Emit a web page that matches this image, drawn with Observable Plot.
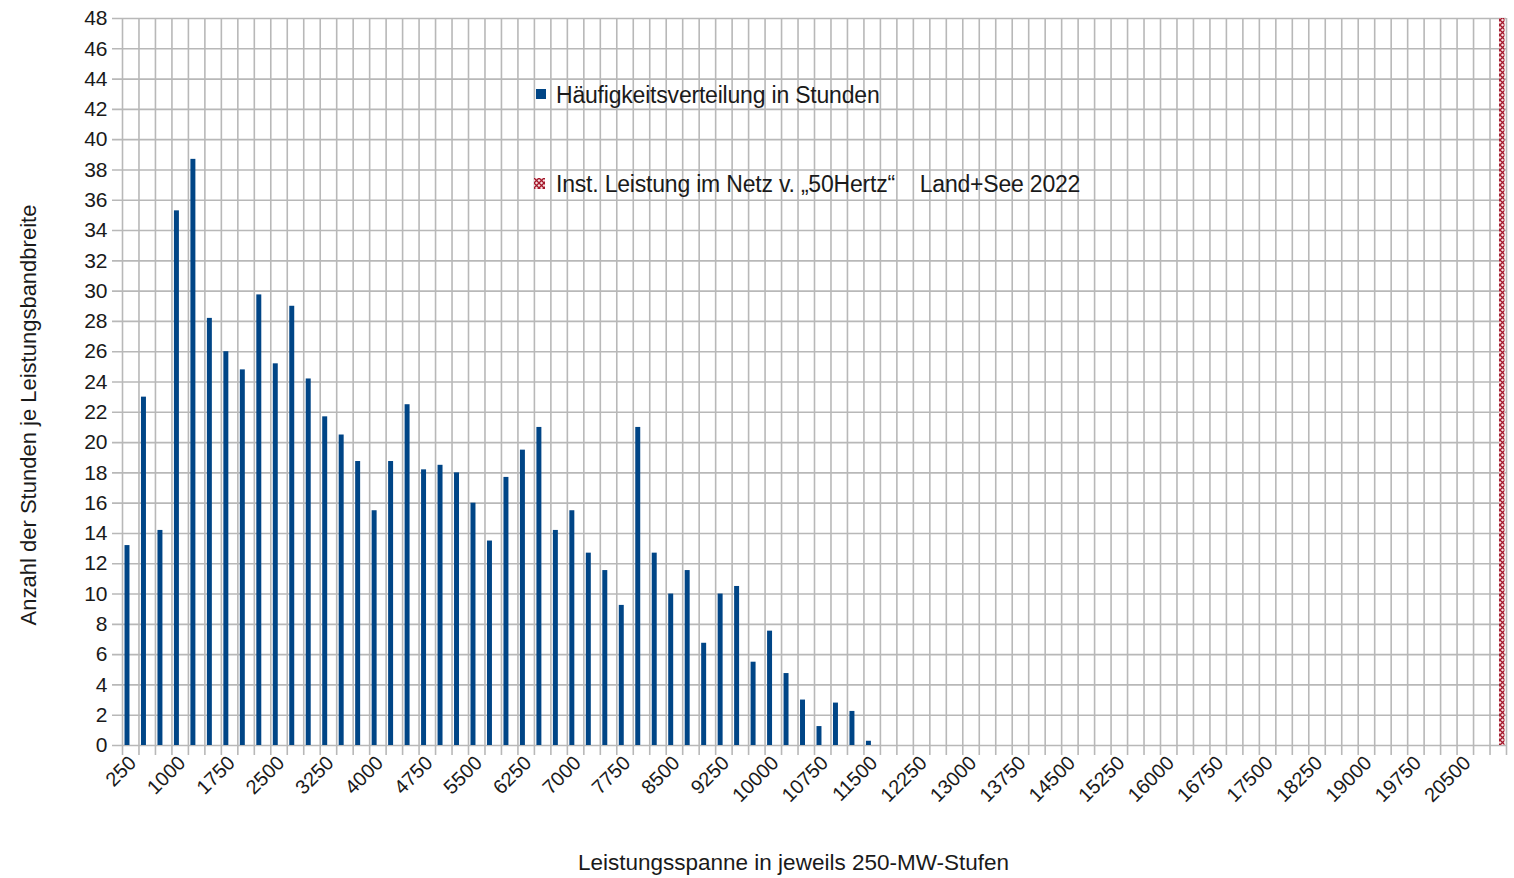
<!DOCTYPE html>
<html>
<head>
<meta charset="utf-8">
<script src="https://cdn.jsdelivr.net/npm/d3@7"></script>
<script src="https://cdn.jsdelivr.net/npm/@observablehq/plot@0.6"></script>
<style>
  html, body { margin: 0; padding: 0; background: #fff; }
  #wrap { position: relative; width: 1514px; height: 878px; font-family: "Liberation Sans", Arial, sans-serif; color: #1a1a1a; }
  .leg { position: absolute; font-size: 23px; line-height: 23px; white-space: pre; letter-spacing: -0.2px; }
  .sw { position: absolute; }
</style>
</head>
<body>
<div id="wrap"></div>
<script>
// Categories: power range in 250-MW steps
const categories = [250,500,750,1000,1250,1500,1750,2000,2250,2500,2750,3000,3250,3500,3750,4000,4250,4500,4750,5000,
  5250,5500,5750,6000,6250,6500,6750,7000,7250,7500,7750,8000,8250,8500,8750,9000,9250,9500,9750,10000,
  10250,10500,10750,11000,11250,11500,11750,12000,12250,12500,12750,13000,13250,13500,13750,14000,14250,14500,14750,15000,
  15250,15500,15750,16000,16250,16500,16750,17000,17250,17500,17750,18000,18250,18500,18750,19000,19250,19500,19750,20000,
  20250,20500,20750,21000];
// Häufigkeitsverteilung in Stunden
const hours = [13.2,23.0,14.2,35.3,38.7,28.2,26.0,24.8,29.75,25.2,29.0,24.2,21.7,20.5,18.75,15.5,18.75,22.5,18.2,18.5,
  18.0,16.0,13.5,17.7,19.5,21.0,14.2,15.5,12.7,11.55,9.25,21.0,12.7,10.0,11.55,6.75,10.0,10.5,5.5,7.55,
  4.75,3.0,1.25,2.8,2.25,0.28,0,0,0,0,0,0,0,0,0,0,0,0,0,0,
  0,0,0,0,0,0,0,0,0,0,0,0,0,0,0,0,0,0,0,0,
  0,0,0,0];
// Inst. Leistung im Netz v. 50Hertz (second series, only last category)
const instCategories = [21000];
const instValues = [48];
// Axis ticks
const yTicks = [0,2,4,6,8,10,12,14,16,18,20,22,24,26,28,30,32,34,36,38,40,42,44,46,48];
const xTickLabels = [250,1000,1750,2500,3250,4000,4750,5500,6250,7000,7750,8500,9250,10000,10750,11500,12250,13000,13750,14500,15250,16000,16750,17500,18250,19000,19750,20500];

const W = 1514, H = 878;
const mL = 122, mR = 8, mT = 18, mB = 133;
const bw = (W - mL - mR) / categories.length;
const grid = "#b8b8b8";

const data = categories.map((c, i) => ({cat: c, hours: hours[i]}));
const inst = instCategories.map((c, i) => ({cat: c, value: instValues[i]}));

const chart = Plot.plot({
  width: W, height: H,
  marginLeft: mL, marginRight: mR, marginTop: mT, marginBottom: mB,
  style: {fontFamily: "'Liberation Sans', Arial, sans-serif", color: "#1a1a1a", background: "white", overflow: "visible"},
  x: {type: "band", domain: categories, padding: 0, label: null, axis: null},
  y: {domain: [0, 48], label: null, axis: null},
  marks: [
    Plot.ruleY(yTicks, {y: d => d, stroke: grid, strokeWidth: 1.6, insetLeft: -10}),
    Plot.ruleX(categories, {x: d => d, dx: -bw / 2, stroke: grid, strokeWidth: 1.6, insetBottom: -10}),
    Plot.ruleX([categories[categories.length - 1]], {x: d => d, dx: bw / 2, stroke: grid, strokeWidth: 1.6, insetBottom: -10}),
    Plot.barY(data, {x: "cat", y: "hours", fill: "#004586", insetLeft: 2.5, insetRight: 9}),
    Plot.barY(inst, {x: "cat", y: "value", fill: "url(#hatch)", insetLeft: 9.5, insetRight: 1.5}),
    Plot.axisX({ticks: xTickLabels, tickFormat: d => String(d), tickSize: 0, tickRotate: -45, tickPadding: 14, fontSize: 20, label: null, dx: 2}),
    Plot.axisY({ticks: yTicks, tickFormat: d => String(d), tickSize: 0, tickPadding: 15, fontSize: 21, label: null}),
    Plot.text(["Leistungsspanne in jeweils 250-MW-Stufen"], {frameAnchor: "bottom", textAnchor: "middle", dy: 124, dx: -21, fontSize: 22.5, fill: "#1a1a1a"}),
    Plot.text(["Anzahl der Stunden je Leistungsbandbreite"], {frameAnchor: "left", textAnchor: "middle", rotate: -90, dx: -94, dy: 33, fontSize: 22, fill: "#1a1a1a"})
  ]
});

// hatch pattern for the installed-capacity series
const defs = d3.select(chart).insert("defs", ":first-child");
const pat = defs.append("pattern").attr("id", "hatch").attr("patternUnits", "userSpaceOnUse")
  .attr("width", 5).attr("height", 5);
pat.append("rect").attr("width", 5).attr("height", 5).attr("fill", "#f6dede");
pat.append("path").attr("d", "M0,0L5,5M5,0L0,5").attr("stroke", "#a3172b").attr("stroke-width", 1.3);

const wrap = document.getElementById("wrap");
wrap.appendChild(chart);

// Legend inside plot area
wrap.insertAdjacentHTML("beforeend", `
  <div class="sw" style="left:536px;top:89px;width:10px;height:10px;background:#004586"></div>
  <div class="leg" style="left:556px;top:84px">Häufigkeitsverteilung in Stunden</div>
  <svg class="sw" style="left:534px;top:178px" width="11" height="11">
    <defs><pattern id="hatch2" patternUnits="userSpaceOnUse" width="5" height="5">
      <rect width="5" height="5" fill="#f6dede"></rect>
      <path d="M0,0L5,5M5,0L0,5" stroke="#a3172b" stroke-width="1.3"></path></pattern></defs>
    <rect width="11" height="11" fill="url(#hatch2)"></rect>
  </svg>
  <div class="leg" style="left:556px;top:173px">Inst. Leistung im Netz v. „50Hertz“    Land+See 2022</div>
`);
</script>
</body>
</html>
